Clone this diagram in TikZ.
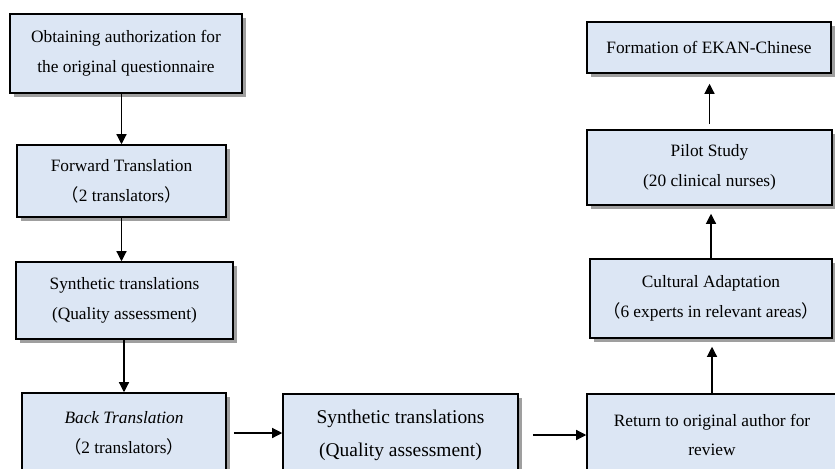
\documentclass[tikz,border=0pt]{standalone}
\usepackage{fontspec}
\setmainfont{Liberation Serif}
\newfontfamily\cjk{Noto Sans CJK SC}
\usetikzlibrary{shapes.geometric, arrows.meta, shadows}
\usetikzlibrary{positioning}
\definecolor{boxblue}{HTML}{DCE6F4}
\tikzstyle{stepbox} = [draw=black, line width=1.3pt, fill=boxblue, align=center, inner sep=0pt,
  font=\fontsize{14.8}{25.5}\selectfont,
  drop shadow={shadow xshift=1.2mm, shadow yshift=-1.2mm, fill=gray!75, opacity=1}]
\tikzstyle{arrow}     = [line width=1pt, -{Triangle[length=3mm, width=3mm]}]
\newcommand{\fwlp}{{\cjk （}}
\newcommand{\fwrp}{{\cjk ）}}

\begin{document}
\begin{tikzpicture}[x=0.3mm, y=-0.3mm]
      \useasboundingbox (0,0) rectangle (835,468);
      \clip (0,0) rectangle (835,468);
      % Left column
      \node[stepbox, minimum width=69.6mm, minimum height=23.7mm] (auth)
        at (126,53.5) {Obtaining authorization for\\the original questionnaire};
      \node[stepbox, minimum width=62.7mm, minimum height=21.6mm] (forward)
        at (121.5,181) {Forward Translation\\\fwlp 2 translators\fwrp};
      \node[stepbox, minimum width=65.1mm, minimum height=23.1mm] (synthA)
        at (124.5,300.5) {Synthetic translations\\(Quality assessment)};
      \node[stepbox, minimum width=61.2mm, minimum height=24mm] (back)
        at (124,433) {\textit{Back Translation}\\\fwlp 2 translators\fwrp};
      % Bottom row
      \node[stepbox, minimum width=70.5mm, minimum height=24.6mm, font=\fontsize{16.6}{28}\selectfont] (synthB)
        at (400.5,435) {Synthetic translations\\(Quality assessment)};
      \node[stepbox, minimum width=75mm, minimum height=24.6mm] (review)
        at (712,435) {Return to original author for\\review};
      % Right column
      \node[stepbox, minimum width=72.6mm, minimum height=23.7mm] (culture)
        at (711,298.5) {Cultural Adaptation\\\fwlp 6 experts in relevant areas\fwrp};
      \node[stepbox, minimum width=73.5mm, minimum height=22.5mm] (pilot)
        at (709.5,167.5) {Pilot Study\\(20 clinical nurses)};
      \node[stepbox, minimum width=73.2mm, minimum height=15.3mm] (final)
        at (709,47.5) {Formation of EKAN-Chinese};
      % Connectors
      \draw[arrow] (auth.south -| forward.north) -- (forward.north);
      \draw[arrow] (forward.south) -- (forward.south |- synthA.north);
      \draw[arrow] (synthA.south -| back.north) -- (back.north);
      \draw[arrow, shorten <=2.1mm] (back.east) -- (back.east -| synthB.west);
      \draw[arrow, shorten <=4.2mm] (synthB.east) -- (synthB.east -| review.west);
      \draw[arrow, shorten >=2.4mm] (review.north) -- (review.north |- culture.south);
      \draw[arrow, shorten >=2.4mm] (culture.north) -- (culture.north |- pilot.south);
      \draw[arrow, shorten <=1.5mm, shorten >=3mm] (pilot.north) -- (pilot.north |- final.south);
\end{tikzpicture}
\end{document}
